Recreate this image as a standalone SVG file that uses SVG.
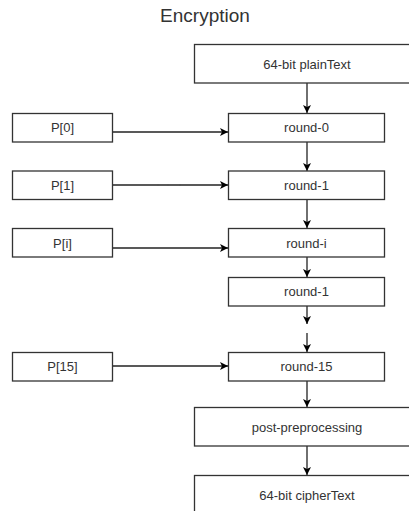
<svg xmlns="http://www.w3.org/2000/svg" width="409" height="511" viewBox="0 0 409 511">
  <style>
    .box { fill: #ffffff; stroke: #333333; stroke-width: 1.3; }
    .lbl { font-family: "Liberation Sans", Arial, sans-serif; font-size: 13px; fill: #333333; text-anchor: middle; dominant-baseline: central; }
    .title { font-family: "Liberation Sans", Arial, sans-serif; font-size: 19px; fill: #333333; text-anchor: middle; }
    .edge { fill: none; stroke: #222222; stroke-width: 1.3; marker-end: url(#arrow); }
  </style>
  <defs>
    <marker id="arrow" markerUnits="userSpaceOnUse" markerWidth="10" markerHeight="10" viewBox="0 0 10 10" refX="9" refY="5" orient="auto">
      <path d="M1,1 L9,5 L1,9 L3,5 Z" fill="#000000"/>
    </marker>
  </defs>
  <rect width="409" height="511" fill="#ffffff"/>

  <text class="title" x="205" y="22">Encryption</text>

  <!-- connectors -->
  <g id="connectors">
    <path class="edge" d="M307,83 V113"/>
    <path class="edge" d="M307,142 V171"/>
    <path class="edge" d="M307,199 V228"/>
    <path class="edge" d="M307,257 V277"/>
    <path class="edge" d="M307,306 V324"/>
    <path class="edge" d="M307,333 V352"/>
    <path class="edge" d="M307,381 V407"/>
    <path class="edge" d="M307,446 V475"/>
    <path class="edge" d="M113,132 H228"/>
    <path class="edge" d="M113,185 H228"/>
    <path class="edge" d="M113,248 H228"/>
    <path class="edge" d="M113,366 H228"/>
    <g fill="#555555">
      <circle cx="158" cy="185" r="0.9"/>
      <circle cx="168" cy="185" r="0.9"/>
      <circle cx="180" cy="185" r="0.9"/>
    </g>
  </g>

  <g id="plain-text">
    <rect class="box" x="194.5" y="44.5" width="226" height="38.5"/>
    <text class="lbl" x="307" y="64">64-bit plainText</text>
  </g>

  <g id="p0">
    <rect class="box" x="12.5" y="113.5" width="100" height="28.5"/>
    <text class="lbl" x="62.5" y="127.5">P[0]</text>
  </g>
  <g id="round-0">
    <rect class="box" x="228.5" y="113.5" width="156" height="28.5"/>
    <text class="lbl" x="306.5" y="127.5">round-0</text>
  </g>

  <g id="p1">
    <rect class="box" x="12.5" y="171" width="100" height="28.5"/>
    <text class="lbl" x="62.5" y="185">P[1]</text>
  </g>
  <g id="round-1">
    <rect class="box" x="228.5" y="171" width="156" height="28.5"/>
    <text class="lbl" x="306.5" y="185">round-1</text>
  </g>

  <g id="pi">
    <rect class="box" x="12.5" y="228.5" width="100" height="28.5"/>
    <text class="lbl" x="62.5" y="243">P[i]</text>
  </g>
  <g id="round-i">
    <rect class="box" x="228.5" y="228.5" width="156" height="28.5"/>
    <text class="lbl" x="306.5" y="243">round-i</text>
  </g>

  <g id="round-1b">
    <rect class="box" x="228.5" y="277.5" width="156" height="28.5"/>
    <text class="lbl" x="306.5" y="291.5">round-1</text>
  </g>

  <g id="p15">
    <rect class="box" x="12.5" y="352.5" width="100" height="28.5"/>
    <text class="lbl" x="62.5" y="366.5">P[15]</text>
  </g>
  <g id="round-15">
    <rect class="box" x="228.5" y="352.5" width="156" height="28.5"/>
    <text class="lbl" x="306.5" y="366.5">round-15</text>
  </g>

  <g id="post-processing">
    <rect class="box" x="194.5" y="407.5" width="226" height="38.5"/>
    <text class="lbl" x="307" y="427">post-preprocessing</text>
  </g>

  <g id="cipher-text">
    <rect class="box" x="194.5" y="475.5" width="226" height="60"/>
    <text class="lbl" x="307" y="495">64-bit cipherText</text>
  </g>
</svg>
